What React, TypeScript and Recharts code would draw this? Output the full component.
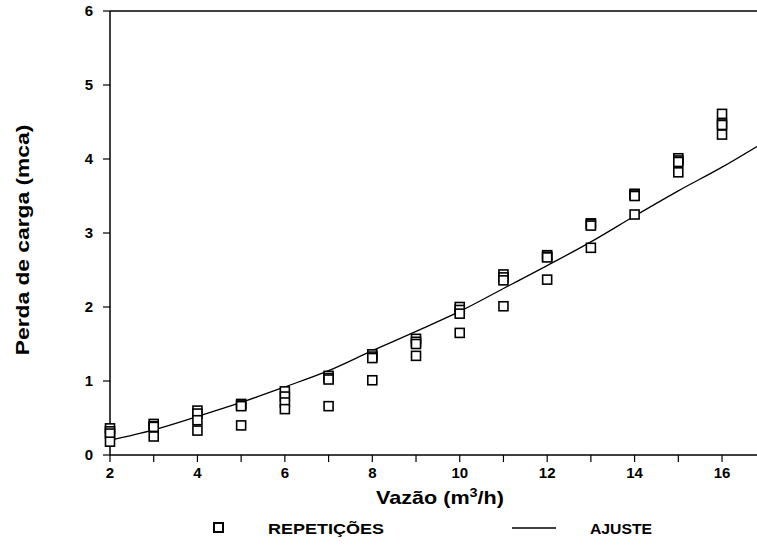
import { ComposedChart, Scatter, Line, XAxis, YAxis, ReferenceLine, Label } from 'recharts';

// vazao (m3/h) and the four repetitions
const vazao = [2, 3, 4, 5, 6, 7, 8, 9, 10, 11, 12, 13, 14, 15, 16];
const rep1 = [0.36, 0.42, 0.60, 0.69, 0.86, 1.07, 1.36, 1.57, 2.00, 2.44, 2.70, 3.13, 3.53, 4.01, 4.61];
const rep2 = [0.32, 0.39, 0.56, 0.67, 0.79, 1.04, 1.33, 1.53, 1.96, 2.40, 2.68, 3.12, 3.52, 3.98, 4.48];
const rep3 = [0.29, 0.38, 0.47, 0.66, 0.71, 1.02, 1.31, 1.50, 1.91, 2.36, 2.67, 3.10, 3.50, 3.96, 4.46];
const rep4 = [0.18, 0.25, 0.33, 0.40, 0.62, 0.66, 1.01, 1.34, 1.65, 2.01, 2.37, 2.80, 3.25, 3.82, 4.33];

// fitted curve (ajuste)
const ajusteVazao = [2, 3, 4, 5, 6, 7, 8, 9, 10, 11, 12, 13, 14, 15, 16, 16.8];
const ajustePerda = [0.20, 0.34, 0.52, 0.71, 0.92, 1.14, 1.41, 1.67, 1.94, 2.25, 2.56, 2.88, 3.23, 3.57, 3.89, 4.17];

const xTicks = [2, 3, 4, 5, 6, 7, 8, 9, 10, 11, 12, 13, 14, 15, 16];
const yTicks = [0, 1, 2, 3, 4, 5, 6];

const repeticoes = vazao.flatMap((v, i) =>
  [rep1[i], rep2[i], rep3[i], rep4[i]].map((p) => ({ x: v, y: p }))
);
const ajuste = ajusteVazao.map((v, i) => ({ x: v, y: ajustePerda[i] }));

const FONT = '"Liberation Sans", Arial, sans-serif';

function Quadrado(props: any) {
  const { cx, cy } = props;
  if (cx == null || cy == null) return null;
  return <rect x={cx - 4.5} y={cy - 4.5} width={9} height={9} fill="#fff" stroke="#000" strokeWidth={1.6} />;
}

function RotuloX() {
  return (
    <text transform="translate(440, 504) scale(1.2, 1)" textAnchor="middle"
      fontFamily={FONT} fontWeight="bold" fontSize={18} fill="#000">
      Vazão (m<tspan dy={-7} fontSize={12}>3</tspan><tspan dy={7}>/h)</tspan>
    </text>
  );
}

function RotuloY() {
  return (
    <text transform="translate(29, 240) rotate(-90) scale(1.2, 1)" textAnchor="middle"
      fontFamily={FONT} fontWeight="bold" fontSize={19} fill="#000">
      Perda de carga (mca)
    </text>
  );
}

function Legenda() {
  return (
    <svg width={757} height={30} style={{ position: 'absolute', left: 0, top: 514 }}>
      <rect x={214} y={9} width={9} height={9} fill="#fff" stroke="#000" strokeWidth={2} />
      <text transform="translate(268, 20) scale(1.2, 1)" fontFamily={FONT} fontWeight="bold" fontSize={15} fill="#000">
        REPETIÇÕES
      </text>
      <line x1={512} x2={556} y1={14} y2={14} stroke="#000" strokeWidth={1.5} />
      <text transform="translate(590, 20) scale(1.05, 1)" fontFamily={FONT} fontWeight="bold" fontSize={15} fill="#000">
        AJUSTE
      </text>
    </svg>
  );
}

export default function App() {
  return (
    <div style={{ position: 'absolute', left: 0, top: 0, width: 757, height: 546, background: '#fff' }}>
      <ComposedChart width={757} height={546} margin={{ top: 11, right: 0, left: 0, bottom: 0 }}>
        <XAxis type="number" dataKey="x" domain={[2, 16.8]} ticks={xTicks} interval={0} height={91}
          tickSize={7} tickMargin={5}
          tickFormatter={(v: number) => (v % 2 === 0 ? String(v) : '')}
          axisLine={{ stroke: '#000', strokeWidth: 1.5 }} tickLine={{ stroke: '#000', strokeWidth: 1.2 }}
          tick={{ fill: '#000', fontSize: 15, fontWeight: 'bold', fontFamily: FONT }}>
          <Label content={RotuloX} />
        </XAxis>
        <YAxis type="number" dataKey="y" domain={[0, 6]} ticks={yTicks} interval={0} width={110}
          tickSize={7} tickMargin={10}
          axisLine={{ stroke: '#000', strokeWidth: 1.5 }} tickLine={{ stroke: '#000', strokeWidth: 1.2 }}
          tick={{ fill: '#000', fontSize: 15, fontWeight: 'bold', fontFamily: FONT }}>
          <Label content={RotuloY} />
        </YAxis>
        <ReferenceLine y={6} stroke="#000" strokeWidth={1.5} />
        <Line data={ajuste} dataKey="y" type="monotone" stroke="#000" strokeWidth={1.3} dot={false}
          isAnimationActive={false} />
        <Scatter data={repeticoes} dataKey="y" shape={Quadrado} isAnimationActive={false} />
      </ComposedChart>
      <Legenda />
    </div>
  );
}
